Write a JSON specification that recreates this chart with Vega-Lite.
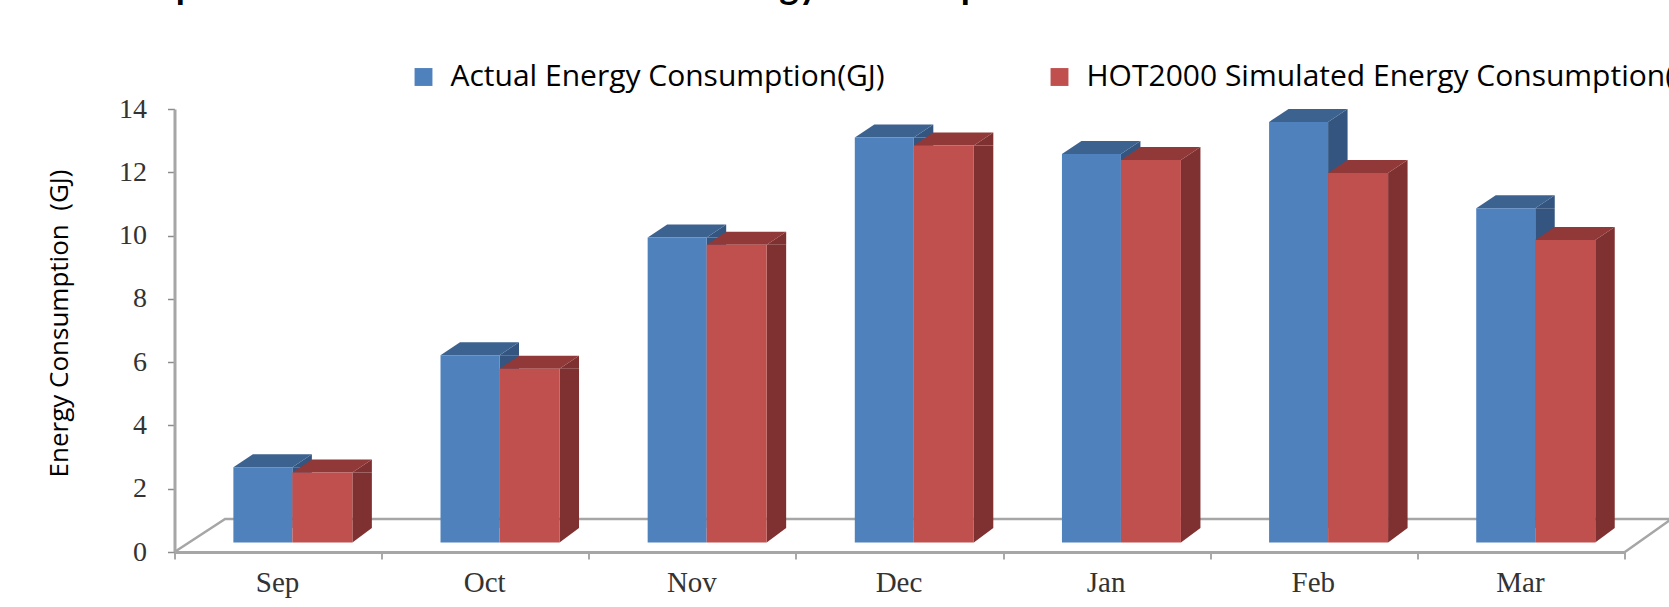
{
"$schema":"https://vega.github.io/schema/vega-lite/v6.json",
"autosize":{"type":"none"},
"padding":{"left":174.5,"top":109,"right":0,"bottom":55},
"width":1494.5,
"height":443,
"background":"white",
"title":{"text":"Comparison of Actual and Simulated Energy Consumption","anchor":"start","frame":"group","font":"Lato","fontWeight":"bold","fontSize":37,"color":"black","baseline":"alphabetic","offset":0,"dx":-75,"dy":-26},
"config":{"view":{"stroke":null}},
"datasets":{"bars":[
{"month":"Sep","series":"Actual Energy Consumption(GJ)","value":2.68},
{"month":"Oct","series":"Actual Energy Consumption(GJ)","value":6.22},
{"month":"Nov","series":"Actual Energy Consumption(GJ)","value":9.94},
{"month":"Dec","series":"Actual Energy Consumption(GJ)","value":13.10},
{"month":"Jan","series":"Actual Energy Consumption(GJ)","value":12.58},
{"month":"Feb","series":"Actual Energy Consumption(GJ)","value":13.59},
{"month":"Mar","series":"Actual Energy Consumption(GJ)","value":10.86},
{"month":"Sep","series":"HOT2000 Simulated Energy Consumption(GJ)","value":2.51},
{"month":"Oct","series":"HOT2000 Simulated Energy Consumption(GJ)","value":5.79},
{"month":"Nov","series":"HOT2000 Simulated Energy Consumption(GJ)","value":9.71},
{"month":"Dec","series":"HOT2000 Simulated Energy Consumption(GJ)","value":12.85},
{"month":"Jan","series":"HOT2000 Simulated Energy Consumption(GJ)","value":12.39},
{"month":"Feb","series":"HOT2000 Simulated Energy Consumption(GJ)","value":11.98},
{"month":"Mar","series":"HOT2000 Simulated Energy Consumption(GJ)","value":9.86}
]},
"data":{"name":"bars"},
"encoding":{
"x":{"field":"month","type":"nominal","sort":["Sep","Oct","Nov","Dec","Jan","Feb","Mar"],
"scale":{"range":[0,1450],"paddingInner":0,"paddingOuter":0},
"axis":{"title":null,"labelAngle":0,"bandPosition":0,"tickBand":"extent","domainColor":"#A6A6A6","domainWidth":3,"tickColor":"#8C8C8C","tickWidth":1.5,"tickSize":7,"labelFont":"Liberation Serif","labelFontSize":29,"labelColor":"#333333","labelPadding":9,"labelOffset":-1,"grid":false}},
"y":{"field":"value","type":"quantitative","scale":{"domain":[0,14],"nice":false},
"axis":{"title":"Energy Consumption \u00a0(GJ)","titleFont":"Open Sans","titleFontSize":26,"titleFontWeight":"normal","titleColor":"black","titleX":-102,"titleY":214,"values":[0,2,4,6,8,10,12,14],"domainColor":"#A6A6A6","domainWidth":3,"tickColor":"#8C8C8C","tickWidth":1.5,"tickSize":7,"labelFont":"Liberation Serif","labelFontSize":28,"labelColor":"#333333","labelPadding":21,"grid":false}}
},
"layer":[
{"transform":[{"filter":"datum.month==='Sep' && datum.series[0]==='A'"}],
 "mark":{"type":"point","filled":false,"opacity":1,"size":4,"stroke":"#A6A6A6","strokeWidth":2.5,"shape":"M-103.6 0L-53 -33L1400 -33M1345.4 1L1392 -32"},
 "encoding":{"y":{"datum":0}}},
{"transform":[{"filter":"datum.series[0]==='A'"}],
 "mark":{"type":"bar","width":19.5,"xOffset":24.05,"color":"#34557F"},
 "encoding":{"y2":{"datum":0.76}}},
{"transform":[{"filter":"datum.series[0]==='A'"}],
 "mark":{"type":"point","filled":true,"opacity":1,"size":4,"color":"#34557F","shape":"M14.3 0L33.8 -13L33.8 0Z"}},
{"transform":[{"filter":"datum.series[0]==='A'"}],
 "mark":{"type":"point","filled":true,"opacity":1,"size":4,"color":"#3C6290","shape":"M-44.7 0L14.3 0L33.8 -13L-25.2 -13Z"}},
{"transform":[{"filter":"datum.series[0]==='A'"}],
 "mark":{"type":"bar","width":59,"xOffset":-15.2},
 "encoding":{"y2":{"datum":0.3},
  "color":{"field":"series","type":"nominal","scale":{"domain":["Actual Energy Consumption(GJ)","HOT2000 Simulated Energy Consumption(GJ)"],"range":["#4F81BD","#C0504D"]},
   "legend":{"title":null,"orient":"none","legendX":234,"legendY":-47,"direction":"horizontal","columns":2,"symbolType":"square","symbolSize":320,"symbolStrokeWidth":0,"labelFont":"Open Sans","labelFontSize":30,"labelColor":"black","labelOffset":12,"labelLimit":900,"columnPadding":159,"symbolOpacity":1}}}},
{"transform":[{"filter":"datum.series[0]==='H'"}],
 "mark":{"type":"bar","width":19.5,"xOffset":84.05,"color":"#7F3030"},
 "encoding":{"y2":{"datum":0.76}}},
{"transform":[{"filter":"datum.series[0]==='H'"}],
 "mark":{"type":"point","filled":true,"opacity":1,"size":4,"color":"#7F3030","shape":"M74.3 0L93.8 -13L93.8 0Z"}},
{"transform":[{"filter":"datum.series[0]==='H'"}],
 "mark":{"type":"point","filled":true,"opacity":1,"size":4,"color":"#7F3030","shape":"M74.3 0L93.8 0L74.3 14.5Z"},
 "encoding":{"y":{"datum":0.76}}},
{"transform":[{"filter":"datum.series[0]==='H'"}],
 "mark":{"type":"point","filled":true,"opacity":1,"size":4,"color":"#913838","shape":"M14.3 0L74.3 0L93.8 -13L33.8 -13Z"}},
{"transform":[{"filter":"datum.series[0]==='H'"}],
 "mark":{"type":"bar","width":60,"xOffset":44.3},
 "encoding":{"y2":{"datum":0.3},
  "color":{"field":"series","type":"nominal"}}}
]
}
